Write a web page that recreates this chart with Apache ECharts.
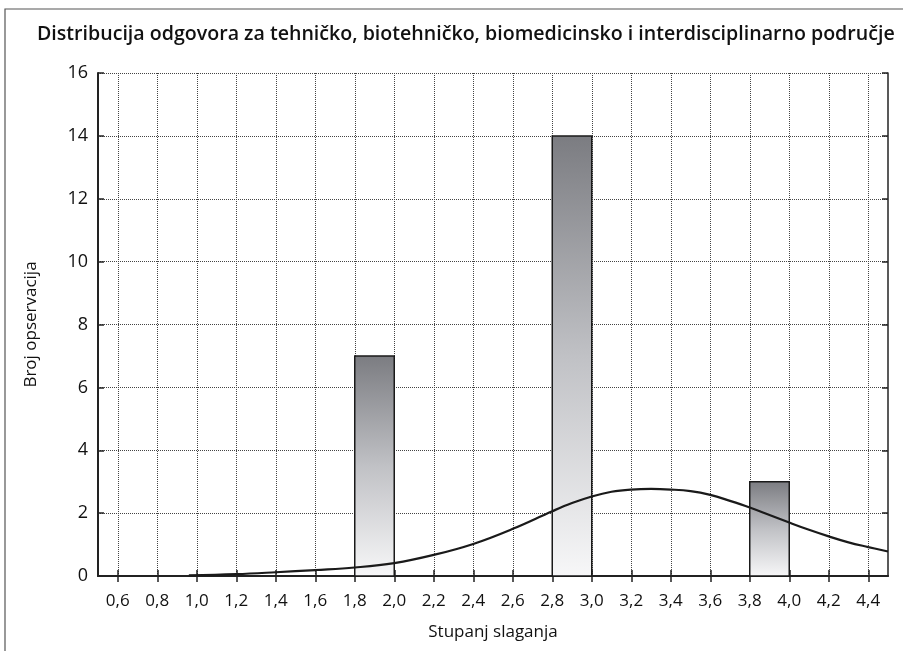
<!DOCTYPE html>
<html>
<head>
<meta charset="utf-8">
<script src="https://cdn.jsdelivr.net/npm/echarts@6/dist/echarts.min.js"></script>
<style>
  html, body { margin: 0; padding: 0; background: #fff; }
  #chart { width: 903px; height: 651px; }
</style>
</head>
<body>
<div id="chart"></div>
<script>
	// histogram bins (from, to, count)
	var binFrom = [1.8, 2.8, 3.8];
	var binTo = [2.0, 3.0, 4.0];
	var counts = [7, 14, 3];

	// fitted normal curve
	var curveX = [0.96, 1.2, 1.4, 1.6, 1.8, 2.0, 2.2, 2.4, 2.6, 2.8, 2.9, 3.0, 3.1, 3.2, 3.3, 3.4, 3.5, 3.6, 3.7, 3.8, 3.9, 4.0, 4.1, 4.2, 4.3, 4.4, 4.5];
	var curveY = [0.02, 0.06, 0.12, 0.19, 0.27, 0.41, 0.67, 1.02, 1.5, 2.06, 2.32, 2.53, 2.68, 2.75, 2.77, 2.75, 2.7, 2.58, 2.39, 2.18, 1.94, 1.7, 1.47, 1.26, 1.07, 0.92, 0.78];

	// x tick labels
	var xTicks = [0.6, 0.8, 1.0, 1.2, 1.4, 1.6, 1.8, 2.0, 2.2, 2.4, 2.6, 2.8, 3.0, 3.2, 3.4, 3.6, 3.8, 4.0, 4.2, 4.4];

	var font = '"Open Sans", "Noto Sans", sans-serif';

	var bars = [];
	for (var i = 0; i < counts.length; i++) {
		bars.push([binFrom[i], binTo[i], counts[i]]);
	}
	var curve = [];
	for (var j = 0; j < curveX.length; j++) {
		curve.push([curveX[j], curveY[j]]);
	}

	function fmt(v) {
		return v.toFixed(1).replace('.', ',');
	}

	var myChart = echarts.init(document.getElementById('chart'));
	var option = {
		backgroundColor: '#fff',
		animation: false,
		title: {
			text: 'Distribucija odgovora za tehničko, biotehničko, biomedicinsko i interdisciplinarno područje',
			left: 32,
			top: 19,
			textStyle: {fontFamily: font, fontSize: 19.6, fontWeight: 600, color: '#111'}
		},
		graphic: [{
			type: 'rect',
			shape: {x: 5, y: 9, width: 1000, height: 1000},
			style: {fill: 'none', stroke: '#555', lineWidth: 1.2},
			silent: true
		}],
		grid: {left: 98, right: 15, top: 73, bottom: 75},
		xAxis: [{
			type: 'value',
			min: 0.5,
			max: 4.5,
			name: 'Stupanj slaganja',
			nameLocation: 'middle',
			nameGap: 48,
			nameTextStyle: {fontFamily: font, fontSize: 17, color: '#111'},
			axisLine: {onZero: false, lineStyle: {color: '#222', width: 2}},
			axisTick: {inside: true, length: 6, customValues: xTicks, lineStyle: {color: '#222', width: 1.5}},
			axisLabel: {
				margin: 17, fontFamily: font, fontSize: 17, color: '#111',
				customValues: xTicks,
				formatter: fmt
			},
			splitLine: {show: true, lineStyle: {type: 'dotted', color: '#444', width: 1}}
		}, {
			type: 'value',
			position: 'top',
			min: 0.5,
			max: 4.5,
			axisLine: {lineStyle: {color: '#222', width: 1.5}},
			axisTick: {inside: true, length: 6, customValues: xTicks, lineStyle: {color: '#222', width: 1.5}},
			axisLabel: {show: false},
			splitLine: {show: false}
		}],
		yAxis: [{
			type: 'value',
			min: 0,
			max: 16,
			interval: 2,
			name: 'Broj opservacija',
			nameLocation: 'middle',
			nameGap: 58,
			nameTextStyle: {fontFamily: font, fontSize: 17, color: '#111'},
			axisLine: {show: true, lineStyle: {color: '#222', width: 2}},
			axisTick: {show: true, inside: true, length: 6, lineStyle: {color: '#222', width: 1.5}},
			axisLabel: {margin: 10, fontFamily: font, fontSize: 18, color: '#111'},
			splitLine: {show: true, lineStyle: {type: 'dotted', color: '#444', width: 1}}
		}, {
			type: 'value',
			position: 'right',
			min: 0,
			max: 16,
			interval: 2,
			axisLine: {show: true, lineStyle: {color: '#222', width: 1.5}},
			axisTick: {show: true, inside: true, length: 6, lineStyle: {color: '#222', width: 1.5}},
			axisLabel: {show: false},
			splitLine: {show: false}
		}],
		series: [
			{
				type: 'custom',
				data: bars,
				z: 3,
				renderItem: function (params, api) {
					var p0 = api.coord([api.value(0), api.value(2)]);
					var p1 = api.coord([api.value(1), 0]);
					return {
						type: 'rect',
						shape: {x: p0[0], y: p0[1], width: p1[0] - p0[0], height: p1[1] - p0[1]},
						style: {
							fill: new echarts.graphic.LinearGradient(0, 0, 0, 1, [
								{offset: 0, color: '#7b7c81'},
								{offset: 0.5, color: '#c0c1c5'},
								{offset: 1, color: '#f7f7f8'}
							]),
							stroke: '#1a1a1a',
							lineWidth: 1.5
						}
					};
				}
			},
			{
				type: 'line',
				data: curve,
				smooth: 0.4,
				symbol: 'none',
				z: 4,
				lineStyle: {color: '#1a1a1a', width: 2.2}
			}
		]
	};
	myChart.setOption(option);
</script>
</body>
</html>
